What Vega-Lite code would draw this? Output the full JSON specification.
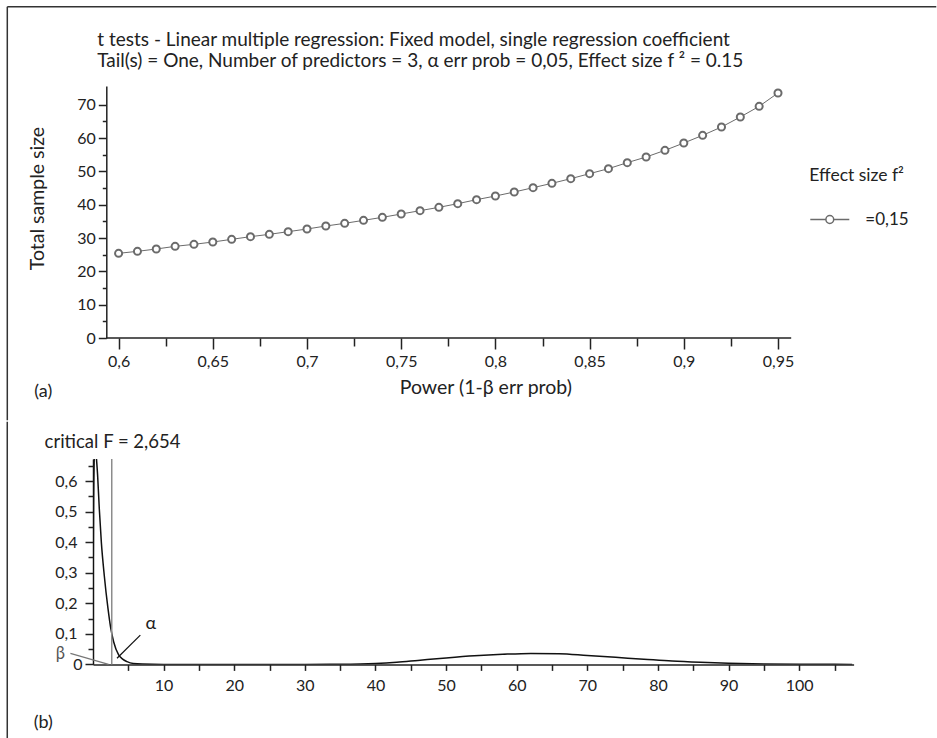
{
  "$schema": "https://vega.github.io/schema/vega-lite/v6.json",
  "background": "white",
  "padding": {"left": 6, "top": 6, "right": 0, "bottom": 0},
  "config": {
    "locale": {"number": {"decimal": ",", "thousands": ".", "grouping": [3], "currency": ["", " €"]}},
    "font": "Lato",
    "view": {"stroke": null},
    "axis": {"grid": false, "domainColor": "#222", "domainWidth": 1.5, "tickColor": "#222", "tickWidth": 1.5, "labelColor": "#222", "labelFont": "Lato", "labelFontSize": 16, "labelOverlap": false, "titleFont": "Lato", "titleFontSize": 19.5, "titleFontWeight": "normal", "titleColor": "#222"},
    "legend": {"titleFont": "Lato", "titleFontSize": 17.5, "titleFontWeight": "normal", "titleColor": "#222", "labelFont": "Lato", "labelFontSize": 17, "labelColor": "#222"},
    "text": {"font": "Lato", "color": "#222"}
  },
  "datasets": {
    "one": [{}],
    "power": [
      {"power": 0.60, "n": 25.4, "effect": "=0,15"},
      {"power": 0.61, "n": 26.0, "effect": "=0,15"},
      {"power": 0.62, "n": 26.7, "effect": "=0,15"},
      {"power": 0.63, "n": 27.5, "effect": "=0,15"},
      {"power": 0.64, "n": 28.1, "effect": "=0,15"},
      {"power": 0.65, "n": 28.8, "effect": "=0,15"},
      {"power": 0.66, "n": 29.6, "effect": "=0,15"},
      {"power": 0.67, "n": 30.4, "effect": "=0,15"},
      {"power": 0.68, "n": 31.1, "effect": "=0,15"},
      {"power": 0.69, "n": 31.9, "effect": "=0,15"},
      {"power": 0.70, "n": 32.7, "effect": "=0,15"},
      {"power": 0.71, "n": 33.6, "effect": "=0,15"},
      {"power": 0.72, "n": 34.4, "effect": "=0,15"},
      {"power": 0.73, "n": 35.3, "effect": "=0,15"},
      {"power": 0.74, "n": 36.2, "effect": "=0,15"},
      {"power": 0.75, "n": 37.2, "effect": "=0,15"},
      {"power": 0.76, "n": 38.2, "effect": "=0,15"},
      {"power": 0.77, "n": 39.2, "effect": "=0,15"},
      {"power": 0.78, "n": 40.3, "effect": "=0,15"},
      {"power": 0.79, "n": 41.5, "effect": "=0,15"},
      {"power": 0.80, "n": 42.6, "effect": "=0,15"},
      {"power": 0.81, "n": 43.8, "effect": "=0,15"},
      {"power": 0.82, "n": 45.1, "effect": "=0,15"},
      {"power": 0.83, "n": 46.4, "effect": "=0,15"},
      {"power": 0.84, "n": 47.8, "effect": "=0,15"},
      {"power": 0.85, "n": 49.3, "effect": "=0,15"},
      {"power": 0.86, "n": 50.8, "effect": "=0,15"},
      {"power": 0.87, "n": 52.6, "effect": "=0,15"},
      {"power": 0.88, "n": 54.3, "effect": "=0,15"},
      {"power": 0.89, "n": 56.3, "effect": "=0,15"},
      {"power": 0.90, "n": 58.5, "effect": "=0,15"},
      {"power": 0.91, "n": 60.8, "effect": "=0,15"},
      {"power": 0.92, "n": 63.3, "effect": "=0,15"},
      {"power": 0.93, "n": 66.3, "effect": "=0,15"},
      {"power": 0.94, "n": 69.5, "effect": "=0,15"},
      {"power": 0.95, "n": 73.5, "effect": "=0,15"}
    ],
    "density": [
      {"x": 0, "d": 0, "dist": "central"},
      {"x": 0.03, "d": 0.3, "dist": "central"},
      {"x": 0.08, "d": 0.52, "dist": "central"},
      {"x": 0.15, "d": 0.65, "dist": "central"},
      {"x": 0.25, "d": 0.71, "dist": "central"},
      {"x": 0.35, "d": 0.72, "dist": "central"},
      {"x": 0.47, "d": 0.68, "dist": "central"},
      {"x": 0.65, "d": 0.62, "dist": "central"},
      {"x": 0.89, "d": 0.51, "dist": "central"},
      {"x": 1.18, "d": 0.40, "dist": "central"},
      {"x": 1.6, "d": 0.29, "dist": "central"},
      {"x": 2.12, "d": 0.183, "dist": "central"},
      {"x": 2.5, "d": 0.12, "dist": "central"},
      {"x": 2.92, "d": 0.074, "dist": "central"},
      {"x": 3.63, "d": 0.031, "dist": "central"},
      {"x": 4.2, "d": 0.017, "dist": "central"},
      {"x": 4.82, "d": 0.009, "dist": "central"},
      {"x": 5.7, "d": 0.003, "dist": "central"},
      {"x": 7, "d": 0.001, "dist": "central"},
      {"x": 10, "d": 0, "dist": "central"},
      {"x": 30, "d": 0, "dist": "central"},
      {"x": 30, "d": 0, "dist": "noncentral"},
      {"x": 35, "d": 0.0005, "dist": "noncentral"},
      {"x": 40, "d": 0.003, "dist": "noncentral"},
      {"x": 43, "d": 0.007, "dist": "noncentral"},
      {"x": 46, "d": 0.013, "dist": "noncentral"},
      {"x": 50, "d": 0.021, "dist": "noncentral"},
      {"x": 54, "d": 0.028, "dist": "noncentral"},
      {"x": 58, "d": 0.033, "dist": "noncentral"},
      {"x": 62, "d": 0.036, "dist": "noncentral"},
      {"x": 66, "d": 0.035, "dist": "noncentral"},
      {"x": 70, "d": 0.029, "dist": "noncentral"},
      {"x": 74, "d": 0.023, "dist": "noncentral"},
      {"x": 78, "d": 0.017, "dist": "noncentral"},
      {"x": 82, "d": 0.011, "dist": "noncentral"},
      {"x": 86, "d": 0.007, "dist": "noncentral"},
      {"x": 90, "d": 0.004, "dist": "noncentral"},
      {"x": 95, "d": 0.0015, "dist": "noncentral"},
      {"x": 100, "d": 0.0005, "dist": "noncentral"},
      {"x": 105, "d": 0.0001, "dist": "noncentral"},
      {"x": 107.5, "d": 0, "dist": "noncentral"}
    ]
  },
  "concat": [
    {
      "width": 698.3,
      "height": 252,
      "layer": [
        {
          "data": {"name": "power"},
          "mark": {"type": "line", "color": "#6b6b6b", "strokeWidth": 1},
          "encoding": {
            "x": {"field": "power", "type": "quantitative",
              "scale": {"domain": [0.58641, 0.95706], "nice": false, "zero": false},
              "axis": {
                "values": [0.6, 0.625, 0.65, 0.675, 0.7, 0.725, 0.75, 0.775, 0.8, 0.825, 0.85, 0.875, 0.9, 0.925, 0.95],
                "tickCount": 100,
                "format": ".2~f",
                "domain": false,
                "labelOverlap": false,
                "labelExpr": "abs(datum.value*20 - round(datum.value*20)) < 1e-6 ? datum.label : ''",
                "tickSize": {"condition": {"test": "abs(datum.value*20 - round(datum.value*20)) < 1e-6", "value": 11}, "value": 8},
                "labelPadding": 4,
                "title": "Power (1-β err prob)",
                "titleX": 392.3, "titleY": 49, "titleBaseline": "middle", "titleAlign": "center"
              }
            },
            "y": {"field": "n", "type": "quantitative",
              "scale": {"domain": [0, 75.6], "nice": false},
              "axis": {
                "offset": -13.3,
                "values": [0, 5, 10, 15, 20, 25, 30, 35, 40, 45, 50, 55, 60, 65, 70],
                "tickCount": 100,
                "labelOverlap": false,
                "labelExpr": "datum.value % 10 === 0 ? datum.label : ''",
                "tickSize": {"condition": {"test": "datum.value % 10 === 0", "value": 8}, "value": 4},
                "labelPadding": 3,
                "title": "Total sample size",
                "titleX": -69, "titleY": 112, "titleBaseline": "middle", "titleAlign": "center"
              }
            }
          }
        },
        {
          "data": {"name": "power"},
          "mark": {"type": "point", "shape": "circle", "fill": "white", "filled": false, "strokeWidth": 2, "size": 50, "opacity": 1},
          "encoding": {
            "x": {"field": "power", "type": "quantitative"},
            "y": {"field": "n", "type": "quantitative"},
            "stroke": {"field": "effect", "type": "nominal",
              "scale": {"range": ["#6b6b6b"]},
              "legend": {
                "title": "Effect size f²",
                "orient": "none", "legendX": 716.3, "legendY": 81,
                "titlePadding": 14.5, "labelOffset": 15,
                "symbolType": "M-1,0H-0.2M0.2,0H1M-0.2,0A0.2,0.2,0,1,0,0.2,0A0.2,0.2,0,1,0,-0.2,0",
                "symbolSize": 1521, "symbolStrokeWidth": 1.5, "symbolFillColor": "white", "padding": 0
              }
            }
          }
        },
        {
          "data": {"name": "one"},
          "mark": {"type": "rule", "color": "#222", "strokeWidth": 1.5},
          "encoding": {"x": {"datum": 0.5935}, "x2": {"datum": 0.957}, "y": {"datum": 0}}
        },
        {
          "data": {"name": "one"},
          "mark": {"type": "text", "text": "t tests - Linear multiple regression: Fixed model, single regression coefficient", "fontSize": 19, "align": "left", "baseline": "middle"},
          "encoding": {"x": {"datum": 0.58869}, "y": {"datum": 89.4}}
        },
        {
          "data": {"name": "one"},
          "mark": {"type": "text", "text": "Tail(s) = One, Number of predictors = 3, α err prob = 0,05, Effect size f ² = 0.15", "fontSize": 19, "align": "left", "baseline": "middle"},
          "encoding": {"x": {"datum": 0.58869}, "y": {"datum": 83.1}}
        },
        {
          "data": {"name": "one"},
          "mark": {"type": "text", "text": "(a)", "fontSize": 18, "align": "center", "baseline": "middle"},
          "encoding": {"x": {"datum": 0.56}, "y": {"datum": -16.2}}
        },
        {
          "data": {"name": "one"},
          "mark": {"type": "rule", "color": "#333", "strokeWidth": 1.5},
          "encoding": {"x": {"datum": 0.54092}, "y": {"datum": 99.34}, "y2": {"datum": -24.68}}
        },
        {
          "data": {"name": "one"},
          "mark": {"type": "rule", "color": "#333", "strokeWidth": 1.5},
          "encoding": {"x": {"datum": 0.54092}, "x2": {"datum": 1.034}, "y": {"datum": 99.34}}
        }
      ]
    },
    {
      "width": 760.6,
      "height": 205.4,
      "layer": [
        {
          "data": {"name": "density"},
          "mark": {"type": "line", "color": "#111", "strokeWidth": 1.5, "clip": true, "interpolate": "monotone"},
          "encoding": {
            "x": {"field": "x", "type": "quantitative",
              "scale": {"domain": [0, 107.7], "nice": false, "zero": false},
              "axis": {
                "values": [5, 10, 15, 20, 25, 30, 35, 40, 45, 50, 55, 60, 65, 70, 75, 80, 85, 90, 95, 100, 105],
                "tickCount": 100,
                "labelOverlap": false,
                "labelExpr": "datum.value % 10 === 0 ? datum.label : ''",
                "tickSize": 6,
                "labelPadding": 7,
                "title": null
              }
            },
            "y": {"field": "d", "type": "quantitative",
              "scale": {"domain": [0, 0.672], "nice": false},
              "axis": {
                "values": [0, 0.05, 0.1, 0.15, 0.2, 0.25, 0.3, 0.35, 0.4, 0.45, 0.5, 0.55, 0.6, 0.65],
                "tickCount": 100,
                "format": ".1~f",
                "labelOverlap": false,
                "labelExpr": "abs(datum.value*10 - round(datum.value*10)) < 1e-6 ? datum.label : ''",
                "tickSize": {"condition": {"test": "abs(datum.value*10 - round(datum.value*10)) < 1e-6", "value": 8}, "value": 5},
                "labelPadding": {"condition": {"test": "datum.value === 0", "value": 3}, "value": 8},
                "title": null
              }
            },
            "detail": {"field": "dist", "type": "nominal"}
          }
        },
        {
          "data": {"name": "one"},
          "mark": {"type": "rule", "color": "#8c8c8c", "strokeWidth": 1.5},
          "encoding": {"x": {"datum": 2.654}, "y": {"datum": 0}, "y2": {"datum": 0.672}}
        },
        {
          "data": {"name": "one"},
          "mark": {"type": "rule", "color": "#111", "strokeWidth": 1.2},
          "encoding": {"x": {"datum": 6.7}, "x2": {"datum": 3.4}, "y": {"datum": 0.096}, "y2": {"datum": 0.02}}
        },
        {
          "data": {"name": "one"},
          "mark": {"type": "text", "text": "α", "fontSize": 18, "align": "center", "baseline": "middle"},
          "encoding": {"x": {"datum": 8.2}, "y": {"datum": 0.131}}
        },
        {
          "data": {"name": "one"},
          "mark": {"type": "rule", "color": "#777", "strokeWidth": 1.2},
          "encoding": {"x": {"datum": -3.2}, "x2": {"datum": 2.2}, "y": {"datum": 0.036}, "y2": {"datum": 0}}
        },
        {
          "data": {"name": "one"},
          "mark": {"type": "text", "text": "β", "fontSize": 16.5, "align": "center", "baseline": "middle", "color": "#555"},
          "encoding": {"x": {"datum": -4.63}, "y": {"datum": 0.034}}
        },
        {
          "data": {"name": "one"},
          "mark": {"type": "text", "text": "critical F = 2,654", "fontSize": 18.5, "align": "left", "baseline": "middle"},
          "encoding": {"x": {"datum": -6.853}, "y": {"datum": 0.7287}}
        },
        {
          "data": {"name": "one"},
          "mark": {"type": "text", "text": "(b)", "fontSize": 18, "align": "center", "baseline": "middle"},
          "encoding": {"x": {"datum": -7.04}, "y": {"datum": -0.193}}
        },
        {
          "data": {"name": "one"},
          "mark": {"type": "rule", "color": "#333", "strokeWidth": 1.5},
          "encoding": {"x": {"datum": -12.14}, "y": {"datum": 0.794}, "y2": {"datum": -0.2464}}
        }
      ]
    }
  ],
  "columns": 1,
  "spacing": -2
}
